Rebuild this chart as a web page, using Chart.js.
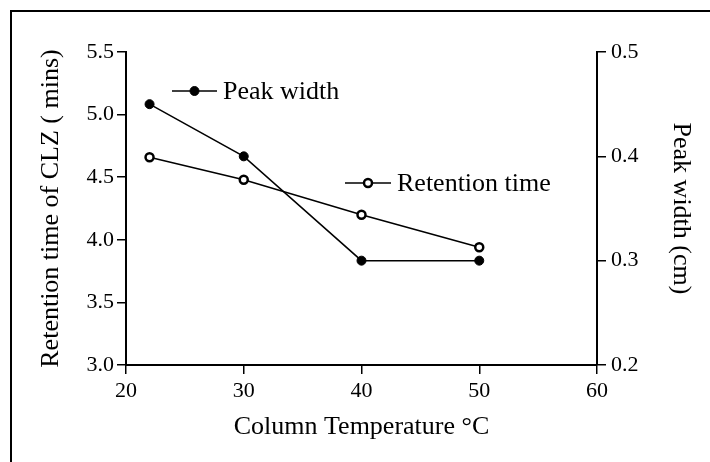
<!DOCTYPE html>
<html>
<head>
<meta charset="utf-8">
<script src="https://cdn.jsdelivr.net/npm/chart.js@4.4.1/dist/chart.umd.min.js"></script>
<style>
  body { margin: 0; background: #fff; }
  #wrap { position: relative; width: 710px; height: 462px; overflow: hidden; }
  #frame { position: absolute; left: 10px; top: 10px; width: 720px; height: 470px;
           border-top: 2.5px solid #000; border-left: 2.5px solid #000; pointer-events: none; }
</style>
</head>
<body>
<div id="wrap">
  <canvas id="chart" width="710" height="462"></canvas>
  <div id="frame"></div>
</div>
<script>
const temps = [22, 30, 40, 50];
const peakWidth = [0.45, 0.40, 0.30, 0.30];
const retentionTime = [4.66, 4.48, 4.20, 3.94];

const xTicks = [20, 30, 40, 50, 60];
const leftTicks = [3.0, 3.5, 4.0, 4.5, 5.0, 5.5];
const rightTicks = [0.2, 0.3, 0.4, 0.5];

const FONT = "'Liberation Serif', 'Times New Roman', serif";

function pts(xs, ys) {
    return xs.map((x, i) => ({ x: x, y: ys[i] }));
}

// in-plot labels ("Peak width", "Retention time")
const labelPlugin = {
    id: "inlineLabels",
    afterDatasetsDraw(chart) {
        const ctx = chart.ctx;
        const items = [
            { x1: 172, x2: 217, y: 91, text: "Peak width", open: false },
            { x1: 345, x2: 391, y: 183, text: "Retention time", open: true }
        ];
        ctx.save();
        items.forEach(it => {
            ctx.strokeStyle = "#000";
            ctx.lineWidth = 1.5;
            ctx.beginPath();
            ctx.moveTo(it.x1, it.y);
            ctx.lineTo(it.x2, it.y);
            ctx.stroke();
            const mx = (it.x1 + it.x2) / 2;
            ctx.beginPath();
            ctx.arc(mx, it.y, it.open ? 4 : 4.5, 0, Math.PI * 2);
            ctx.fillStyle = it.open ? "#fff" : "#000";
            ctx.fill();
            ctx.lineWidth = it.open ? 2.5 : 1;
            ctx.stroke();
            ctx.fillStyle = "#000";
            ctx.font = "26px " + FONT;
            ctx.textBaseline = "middle";
            ctx.textAlign = "left";
            ctx.fillText(it.text, it.x2 + 6, it.y + 1);
        });
        ctx.restore();
    }
};

new Chart(document.getElementById("chart"), {
    type: "line",
    data: {
        datasets: [
            {
                label: "Peak width",
                data: pts(temps, peakWidth),
                yAxisID: "y2",
                borderColor: "#000",
                borderWidth: 1.5,
                backgroundColor: "#000",
                pointRadius: 4.5,
                pointBorderWidth: 1,
                pointBorderColor: "#000",
                pointBackgroundColor: "#000"
            },
            {
                label: "Retention time",
                data: pts(temps, retentionTime),
                yAxisID: "y",
                borderColor: "#000",
                borderWidth: 1.5,
                pointRadius: 4,
                pointBorderWidth: 2.5,
                pointBorderColor: "#000",
                pointBackgroundColor: "#fff"
            }
        ]
    },
    options: {
        responsive: false,
        animation: false,
        layout: { padding: { top: 52, left: 0, right: 0, bottom: 0 } },
        plugins: { legend: { display: false }, tooltip: { enabled: false } },
        scales: {
            x: {
                type: "linear",
                min: 20, max: 60,
                afterFit: s => { s.height = 97; },
                afterBuildTicks: s => { s.ticks = xTicks.map(v => ({ value: v })); },
                border: { display: true, color: "#000", width: 2 },
                grid: { drawOnChartArea: false, drawTicks: true, tickLength: 9, color: "#000", lineWidth: 1.5 },
                ticks: { color: "#000", font: { family: FONT, size: 22 }, padding: 4, maxRotation: 0 },
                title: { display: true, text: "Column Temperature °C", color: "#000",
                         font: { family: FONT, size: 26 }, padding: { top: 0, bottom: 19 } }
            },
            y: {
                position: "left",
                min: 3.0, max: 5.5,
                afterFit: s => { s.width = 126; },
                afterBuildTicks: s => { s.ticks = leftTicks.map(v => ({ value: v })); },
                border: { display: true, color: "#000", width: 2 },
                grid: { drawOnChartArea: false, drawTicks: true, tickLength: 9, color: "#000", lineWidth: 1.5 },
                ticks: { color: "#000", font: { family: FONT, size: 22 }, padding: 3,
                         callback: v => Number(v).toFixed(1) },
                title: { display: true, text: "Retention time of CLZ ( mins)", color: "#000",
                         font: { family: FONT, size: 26 }, padding: { top: 36, bottom: 0 } }
            },
            y2: {
                position: "right",
                min: 0.2, max: 0.5,
                afterFit: s => { s.width = 113; },
                afterBuildTicks: s => { s.ticks = rightTicks.map(v => ({ value: v })); },
                border: { display: true, color: "#000", width: 2 },
                grid: { drawOnChartArea: false, drawTicks: true, tickLength: 9, color: "#000", lineWidth: 1.5 },
                ticks: { color: "#000", font: { family: FONT, size: 22 }, padding: 5,
                         callback: v => Number(v).toFixed(1) },
                title: { display: true, text: "Peak width (cm)", color: "#000",
                         font: { family: FONT, size: 26 }, padding: { top: 14, bottom: 0 } }
            }
        }
    },
    plugins: [labelPlugin]
});
</script>
</body>
</html>
